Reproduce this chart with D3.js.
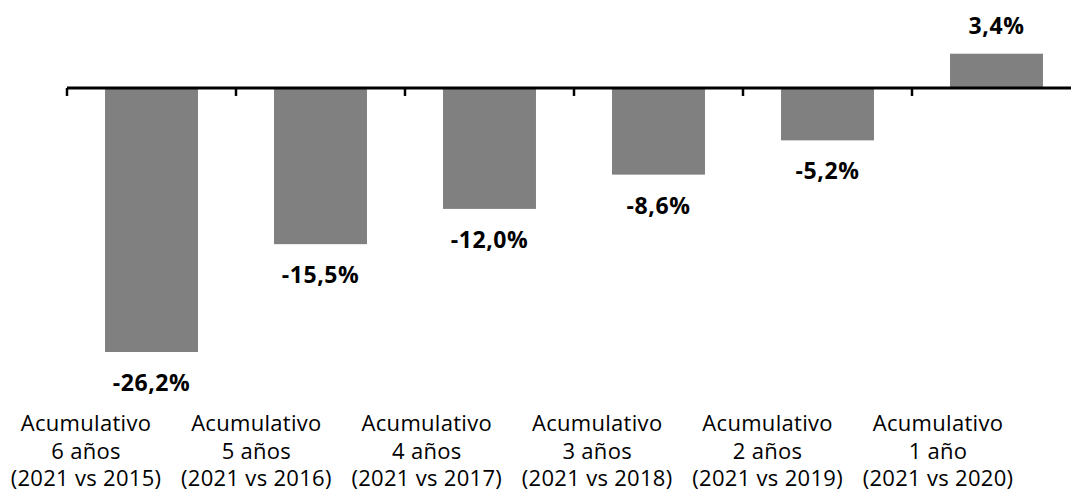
<!DOCTYPE html>
<html>
<head>
<meta charset="utf-8">
<script src="https://cdn.jsdelivr.net/npm/d3@7"></script>
<style>
  html, body { margin: 0; padding: 0; background: #fff; }
  svg { display: block; }
  .value { font-family: "Open Sans", sans-serif; font-weight: bold; font-size: 23px; letter-spacing: 0.6px; fill: #000; }
  .cat { font-family: "Open Sans", sans-serif; font-size: 22px; letter-spacing: 0.3px; fill: #000; }
</style>
</head>
<body>
<div id="chart"></div>
<script>
const categories = ['6', '5', '4', '3', '2', '1'];
const values = [-26.2, -15.5, -12.0, -8.6, -5.2, 3.4];
const valueLabels = ['-26,2%', '-15,5%', '-12,0%', '-8,6%', '-5,2%', '3,4%'];
const labelLines = [
  ['Acumulativo', '6 años', '(2021 vs 2015)'],
  ['Acumulativo', '5 años', '(2021 vs 2016)'],
  ['Acumulativo', '4 años', '(2021 vs 2017)'],
  ['Acumulativo', '3 años', '(2021 vs 2018)'],
  ['Acumulativo', '2 años', '(2021 vs 2019)'],
  ['Acumulativo', '1 año', '(2021 vs 2020)']
];

const width = 1071;
const height = 491;

const svg = d3.select('#chart').append('svg')
  .attr('width', width)
  .attr('height', height);

const x = d3.scaleBand()
  .domain(categories)
  .range([67, 1081])
  .paddingInner(0.45)
  .paddingOuter(0.225);

// Excel places the category text a little left of the bars
const xLabel = d3.scalePoint()
  .domain(categories)
  .range([86, 938]);

const y = d3.scaleLinear()
  .domain([-26.2, 3.4])
  .range([352, 53.7]);

const data = categories.map((c, i) => ({ cat: c, value: values[i], label: valueLabels[i], lines: labelLines[i] }));

// bars
svg.append('g')
  .selectAll('rect')
  .data(data)
  .enter()
  .append('rect')
    .attr('x', d => x(d.cat))
    .attr('width', x.bandwidth())
    .attr('y', d => Math.min(y(0), y(d.value)))
    .attr('height', d => Math.abs(y(d.value) - y(0)))
    .attr('fill', '#808080');

// axis line and ticks at band boundaries
const step = x.step();
const tickX = d3.range(categories.length + 1).map(i => x.range()[0] + i * step);

const axis = svg.append('g');
axis.append('line')
  .attr('x1', tickX[0])
  .attr('x2', tickX[tickX.length - 1])
  .attr('y1', y(0))
  .attr('y2', y(0))
  .attr('stroke', '#000')
  .attr('stroke-width', 3);

axis.selectAll('line.tick')
  .data(tickX)
  .enter()
  .append('line')
    .attr('class', 'tick')
    .attr('x1', d => d)
    .attr('x2', d => d)
    .attr('y1', y(0))
    .attr('y2', y(0) + 8)
    .attr('stroke', '#000')
    .attr('stroke-width', 2.5);

// value labels
svg.append('g')
  .selectAll('text')
  .data(data)
  .enter()
  .append('text')
    .attr('class', 'value')
    .attr('text-anchor', 'middle')
    .attr('x', d => x(d.cat) + x.bandwidth() / 2)
    .attr('y', d => d.value < 0 ? y(d.value) + 39 : y(d.value) - 20)
    .text(d => d.label);

// category labels
const catG = svg.append('g')
  .selectAll('text')
  .data(data)
  .enter()
  .append('text')
    .attr('class', 'cat')
    .attr('text-anchor', 'middle')
    .attr('x', d => xLabel(d.cat))
    .attr('y', 431);

catG.selectAll('tspan')
  .data(d => d.lines.map(t => ({ t, x: xLabel(d.cat) })))
  .enter()
  .append('tspan')
    .attr('x', d => d.x)
    .attr('dy', (d, i) => i === 0 ? 0 : 27.5)
    .text(d => d.t);
</script>
</body>
</html>
